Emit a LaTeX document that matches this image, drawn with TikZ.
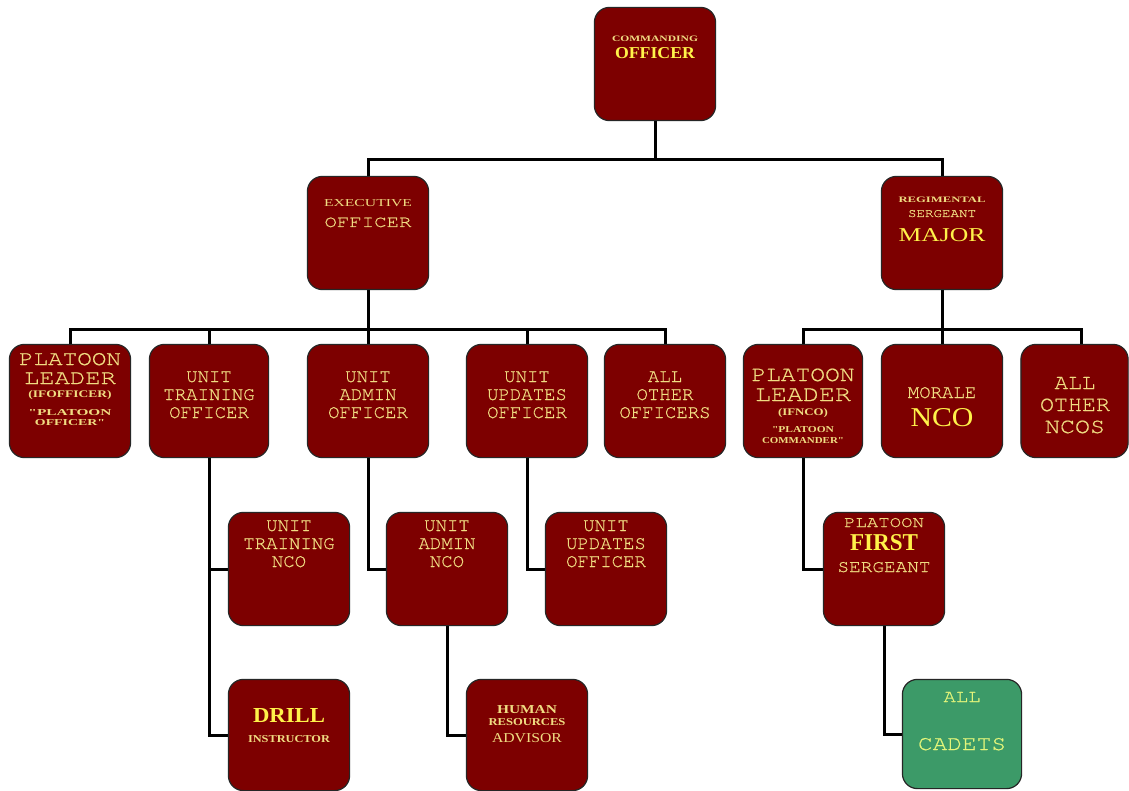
\documentclass[tikz,border=0pt]{standalone}
\usepackage{fontspec}
\usepackage{graphicx}
\newfontfamily\monof[FakeBold=0.6]{TeX Gyre Cursor}
\newfontfamily\serf{Liberation Serif}
\definecolor{maroonfill}{HTML}{7D0000}
\definecolor{greenfill}{HTML}{3C9A68}
\definecolor{pale}{HTML}{F0DC82}
\definecolor{bright}{HTML}{FFF24A}
\definecolor{cadtxt}{HTML}{E4F57A}
\newcounter{tl}
\newcommand\bl[7][pale]{\stepcounter{tl}\node[lbl,text=#1] (tl\arabic{tl}) at (#2,#3) {\resizebox{#4pt}{#5pt}{#6#7}};}
\newcommand\gl[3]{\stepcounter{tl}\node[lbl,text=pale] (tl\arabic{tl}) at (#1,#2) {\monof\fontsize{19}{19}\selectfont #3};}
\tikzset{
  orgbox/.style={draw=black!85, line width=1.2pt, fill=maroonfill, rounded corners=15pt,
    minimum width=120pt, minimum height=112pt, inner sep=0pt},
  greenbox/.style={orgbox, fill=greenfill},
  lbl/.style={inner sep=0pt, anchor=base},
  conn/.style={draw=black, line width=3pt, line join=miter}
}
\begin{document}
\begin{tikzpicture}[x=1pt,y=-1pt]
\useasboundingbox[fill=white] (0,0) rectangle (1129,791);
\coordinate (b1) at (0,160);
\coordinate (b2) at (0,330);
\path
  node[orgbox] (co) at (655,64) {}
  node[orgbox] (xo) at (368,233) {}
  node[orgbox] (rsm) at (942,233) {}
  node[orgbox] (pl1) at (70,401) {}
  node[orgbox, minimum width=118pt] (uto) at (209,401) {}
  node[orgbox] (uao) at (368,401) {}
  node[orgbox] (uuo) at (527,401) {}
  node[orgbox] (aoo) at (665,401) {}
  node[orgbox, minimum width=118pt] (pl2) at (803,401) {}
  node[orgbox] (mor) at (942,401) {}
  node[orgbox, minimum width=106pt] (aon) at (1074.5,401) {}
  node[orgbox] (utn) at (289,569) {}
  node[orgbox] (uan) at (447,569) {}
  node[orgbox] (uu2) at (606,569) {}
  node[orgbox] (pfs) at (884,569) {}
  node[orgbox, minimum height=110pt] (dri) at (289,735) {}
  node[orgbox, minimum height=110pt] (hra) at (527,735) {}
  node[greenbox, minimum width=118pt, minimum height=108pt] (cad) at (962,734) {};
\coordinate (aontop) at ([xshift=6.5pt]aon.north);
% connectors
\draw[conn] (co.south) -- (co.south |- b1);
\draw[conn] (xo.north) -- (xo.north |- b1) -- (rsm.north |- b1) -- (rsm.north);
\draw[conn] (xo.south) -- (xo.south |- b2);
\draw[conn] (pl1.north) -- (pl1.north |- b2) -- (aoo.north |- b2) -- (aoo.north);
\draw[conn] (uto.north) -- (uto.north |- b2);
\draw[conn] (uao.north) -- (uao.north |- b2);
\draw[conn] (uuo.north) -- (uuo.north |- b2);
\draw[conn] (rsm.south) -- (rsm.south |- b2);
\draw[conn] (pl2.north) -- (pl2.north |- b2) -- (aontop |- b2) -- (aontop);
\draw[conn] (mor.north) -- (mor.north |- b2);
\draw[conn] (uto.south) |- (dri.west);
\draw[conn] (uto.south |- utn.west) -- (utn.west);
\draw[conn] (uao.south) |- (uan.west);
\draw[conn] (uan.south) |- (hra.west);
\draw[conn] (uuo.south) |- (uu2.west);
\draw[conn] (pl2.south) |- (pfs.west);
\draw[conn] (pfs.south) |- (cad.west);
% boxes on top of connectors
\foreach \n in {co,xo,rsm,pl1,uto,uao,uuo,aoo,pl2,mor,aon,utn,uan,uu2,pfs,dri,hra}{
  \draw[draw=black!85, line width=1.2pt, fill=maroonfill, rounded corners=15pt]
    (\n.north west) rectangle (\n.south east);
}
\draw[draw=black!85, line width=1.2pt, fill=greenfill, rounded corners=15pt]
    (cad.north west) rectangle (cad.south east);
% texts
\bl{655}{42}{86}{5.5}{\serf\bfseries}{COMMANDING}
\bl[bright]{655}{59}{80}{11}{\serf\bfseries}{OFFICER}
\bl{368}{207}{88}{7}{\serf}{EXECUTIVE}
\bl{368}{227}{87}{9.5}{\monof}{OFFICER}
\bl{942}{203}{87}{5.5}{\serf\bfseries}{REGIMENTAL}
\bl{942}{217}{68}{7}{\monof}{SERGEANT}
\bl[bright]{942}{242}{87}{13}{\serf}{MAJOR}
\bl{70}{365}{102}{12}{\monof}{PLATOON}
\bl{70}{384}{92}{11.5}{\monof}{LEADER}
\bl{70}{397}{83}{7}{\serf\bfseries}{(IFOFFICER)}
\bl{70}{415}{83}{6}{\serf\bfseries}{"PLATOON}
\bl{70}{425}{70}{6}{\serf\bfseries}{OFFICER"}
\gl{209}{382}{UNIT}\gl{209}{400}{TRAINING}\gl{209}{418}{OFFICER}
\gl{368}{382}{UNIT}\gl{368}{400}{ADMIN}\gl{368}{418}{OFFICER}
\gl{527}{382}{UNIT}\gl{527}{400}{UPDATES}\gl{527}{418}{OFFICER}
\gl{665}{382}{ALL}\gl{665}{400}{OTHER}\gl{665}{418}{OFFICERS}
\bl{803}{381}{103}{12.5}{\monof}{PLATOON}
\bl{803}{401}{96}{12.5}{\monof}{LEADER}
\bl{803}{415}{50}{7}{\serf\bfseries}{(IFNCO)}
\bl{803}{432}{62}{6}{\serf\bfseries}{"PLATOON}
\bl{803}{443}{82}{6}{\serf\bfseries}{COMMANDER"}
\gl{942}{398}{MORALE}
\bl[bright]{942}{426}{63}{18}{\serf}{NCO}
\bl{1075}{389}{41}{12}{\monof}{ALL}
\bl{1075}{411}{70}{12.5}{\monof}{OTHER}
\bl{1075}{433}{60}{12.5}{\monof}{NCOS}
\gl{289}{531}{UNIT}\gl{289}{549}{TRAINING}\gl{289}{567}{NCO}
\gl{447}{531}{UNIT}\gl{447}{549}{ADMIN}\gl{447}{567}{NCO}
\gl{606}{531}{UNIT}\gl{606}{549}{UPDATES}\gl{606}{567}{OFFICER}
\bl{884}{527}{80}{9}{\monof}{PLATOON}
\bl[bright]{884}{550}{68}{16}{\serf\bfseries}{FIRST}
\bl{884}{572}{93}{10}{\monof}{SERGEANT}
\bl[bright]{289}{722}{72}{14}{\serf\bfseries}{DRILL}
\bl{289}{742}{82}{7}{\serf\bfseries}{INSTRUCTOR}
\bl{527}{713}{60}{8}{\serf\bfseries}{HUMAN}
\bl{527}{725}{77}{7}{\serf\bfseries}{RESOURCES}
\bl{527}{742}{70}{9}{\serf}{ADVISOR}
\bl[cadtxt]{962}{702}{37}{10}{\monof}{ALL}
\bl[cadtxt]{962}{750}{88}{12}{\monof}{CADETS}
\end{tikzpicture}
\end{document}
